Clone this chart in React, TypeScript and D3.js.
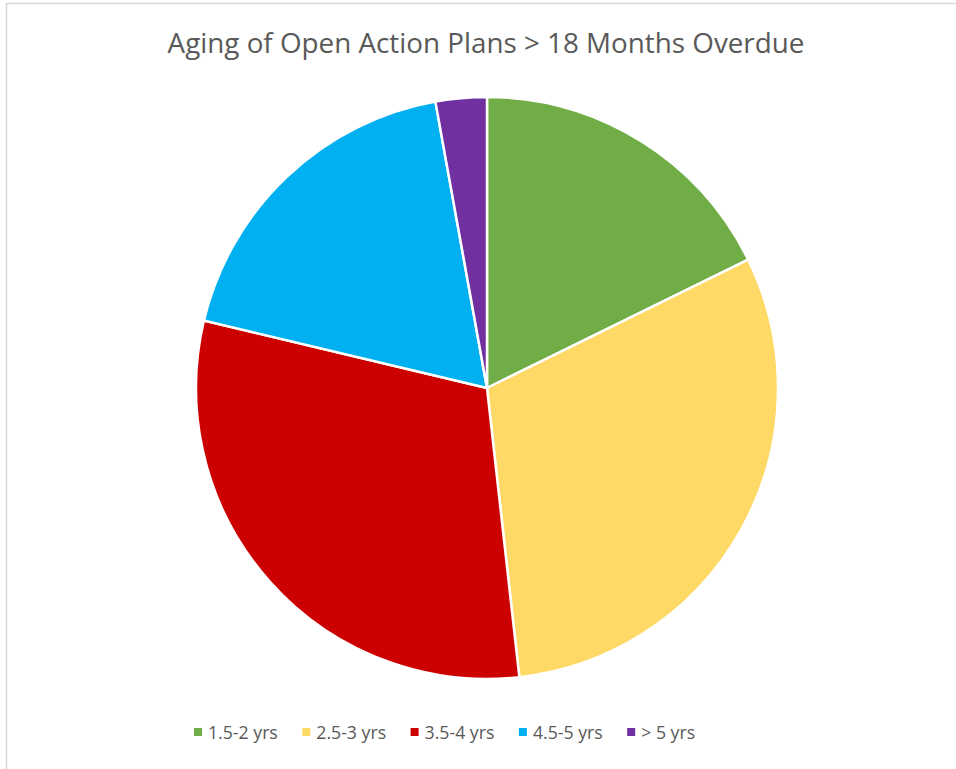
import React, { useEffect, useRef } from "react";
import * as d3 from "d3";

const categories = ["1.5-2 yrs", "2.5-3 yrs", "3.5-4 yrs", "4.5-5 yrs", "> 5 yrs"];
const counts = [25, 43, 43, 26, 4];
const colors = ["#70AD47", "#FFD966", "#CC0000", "#00B0F0", "#7030A0"];
const title = "Aging of Open Action Plans > 18 Months Overdue";

const W = 956;
const H = 769;
const FONT = "'Open Sans', Lato, sans-serif";

export default function App() {
  const ref = useRef<SVGSVGElement | null>(null);

  useEffect(() => {
    const svg = d3.select(ref.current);
    svg.selectAll("*").remove();

    // chart area frame
    svg
      .append("rect")
      .attr("x", 6.5)
      .attr("y", 3.5)
      .attr("width", W + 20)
      .attr("height", H + 20)
      .attr("fill", "#fff")
      .attr("stroke", "#D9D9D9")
      .attr("stroke-width", 1.5);

    svg
      .append("text")
      .attr("x", 486)
      .attr("y", 53)
      .attr("text-anchor", "middle")
      .attr("font-family", FONT)
      .attr("font-size", 27.8)
      .attr("fill", "#595959")
      .text(title);

    const cx = 487;
    const cy = 388;
    const r = 291;

    const pie = d3.pie<number>().sort(null).value((d) => d);
    const arc = d3.arc<d3.PieArcDatum<number>>().innerRadius(0).outerRadius(r);

    const g = svg.append("g").attr("transform", `translate(${cx},${cy})`);
    g.selectAll("path")
      .data(pie(counts))
      .join("path")
      .attr("d", arc)
      .attr("fill", (_d, i) => colors[i])
      .attr("stroke", "#fff")
      .attr("stroke-width", 2.5)
      .attr("stroke-linejoin", "round");

    // legend row
    const legend = svg.append("g").attr("transform", "translate(194,739)");
    const items = legend.selectAll("g").data(categories).join("g");
    items
      .append("rect")
      .attr("width", 8)
      .attr("height", 8)
      .attr("y", -11)
      .attr("fill", (_d, i) => colors[i]);
    items
      .append("text")
      .attr("x", 14)
      .attr("font-family", FONT)
      .attr("font-size", 17.7)
      .attr("fill", "#595959")
      .text((d) => d);

    let x = 0;
    const gap = 24.5;
    items.each(function () {
      const node = this as SVGGElement;
      const t = node.querySelector("text") as SVGTextElement;
      const w = 14 + t.getComputedTextLength();
      d3.select(node).attr("transform", `translate(${x},0)`);
      x += w + gap;
    });
  }, []);

  return (
    <svg
      ref={ref}
      width={W}
      height={H}
      style={{ position: "absolute", left: 0, top: 0, background: "#fff" }}
    />
  );
}
